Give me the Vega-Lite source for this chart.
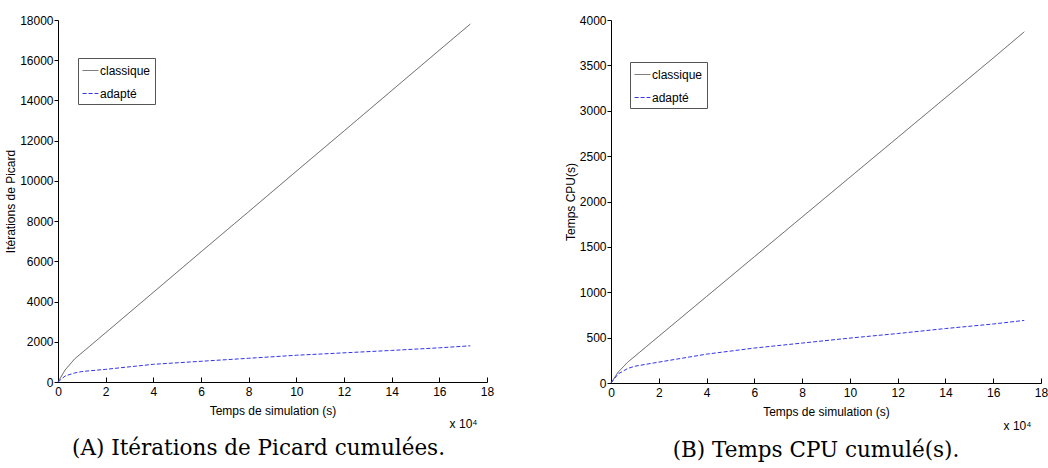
{
  "$schema": "https://vega.github.io/schema/vega-lite/v6.json",
  "background": "white",
  "padding": {"left": 4, "top": 14, "right": 0, "bottom": 0},
  "datasets": {
    "series": [
      {"t": 0, "serie": "classique", "iter": 0, "cpu": 0},
      {"t": 3000, "serie": "classique", "iter": 600, "cpu": 120},
      {"t": 7000, "serie": "classique", "iter": 1150, "cpu": 230},
      {"t": 10000, "serie": "classique", "iter": 1450, "cpu": 295},
      {"t": 20000, "serie": "classique", "iter": 2450, "cpu": 515},
      {"t": 40000, "serie": "classique", "iter": 4460, "cpu": 953},
      {"t": 60000, "serie": "classique", "iter": 6470, "cpu": 1391},
      {"t": 80000, "serie": "classique", "iter": 8470, "cpu": 1829},
      {"t": 100000, "serie": "classique", "iter": 10480, "cpu": 2267},
      {"t": 120000, "serie": "classique", "iter": 12480, "cpu": 2705},
      {"t": 140000, "serie": "classique", "iter": 14490, "cpu": 3143},
      {"t": 160000, "serie": "classique", "iter": 16500, "cpu": 3581},
      {"t": 173000, "serie": "classique", "iter": 17800, "cpu": 3870},
      {"t": 0, "serie": "adapté", "iter": 0, "cpu": 0},
      {"t": 3000, "serie": "adapté", "iter": 300, "cpu": 100},
      {"t": 7000, "serie": "adapté", "iter": 450, "cpu": 160},
      {"t": 10000, "serie": "adapté", "iter": 520, "cpu": 185},
      {"t": 20000, "serie": "adapté", "iter": 630, "cpu": 230},
      {"t": 40000, "serie": "adapté", "iter": 880, "cpu": 318},
      {"t": 60000, "serie": "adapté", "iter": 1030, "cpu": 385},
      {"t": 80000, "serie": "adapté", "iter": 1180, "cpu": 440},
      {"t": 100000, "serie": "adapté", "iter": 1330, "cpu": 495},
      {"t": 120000, "serie": "adapté", "iter": 1450, "cpu": 545},
      {"t": 140000, "serie": "adapté", "iter": 1570, "cpu": 600},
      {"t": 160000, "serie": "adapté", "iter": 1700, "cpu": 650},
      {"t": 173000, "serie": "adapté", "iter": 1800, "cpu": 690}
    ],
    "notes": [{"t": 176000, "txt": "x 10⁴", "iter": -2100, "cpu": -470}]
  },
  "hconcat": [
    {
      "width": 429,
      "height": 362,
      "title": {"text": "(A) Itérations de Picard cumulées.", "orient": "bottom", "font": "DejaVu Serif", "fontSize": 21.5, "fontWeight": "normal", "offset": 8, "anchor": "middle", "dx": -14},
      "layer": [
        {
          "data": {"name": "series"},
          "mark": {"type": "line", "strokeWidth": 1, "clip": false},
          "encoding": {
            "x": {"field": "t", "type": "quantitative", "scale": {"domain": [0, 180000], "nice": false, "zero": true},
                  "axis": {"values": [0, 20000, 40000, 60000, 80000, 100000, 120000, 140000, 160000, 180000], "labelExpr": "format(datum.value/10000, 'd')", "title": "Temps de simulation (s)", "tickSize": -5, "labelPadding": 9, "grid": false, "titlePadding": 8}},
            "y": {"field": "iter", "type": "quantitative", "scale": {"domain": [0, 18000], "nice": false},
                  "axis": {"values": [0, 2000, 4000, 6000, 8000, 10000, 12000, 14000, 16000, 18000], "format": "d", "title": "Itérations de Picard", "tickSize": 4, "labelPadding": 1, "grid": false, "titlePadding": 2}},
            "color": {"field": "serie", "type": "nominal", "scale": {"domain": ["classique", "adapté"], "range": ["#555555", "#3333ee"]},
                      "legend": {"orient": "none", "legendX": 20, "legendY": 38, "title": null}},
            "strokeDash": {"field": "serie", "type": "nominal", "scale": {"domain": ["classique", "adapté"], "range": [[1, 0], [4, 2]]}, "legend": null},
            "order": {"field": "t", "type": "quantitative"}
          }
        },
        {
          "data": {"name": "notes"},
          "mark": {"type": "text", "align": "right", "baseline": "middle", "fontSize": 12, "clip": false},
          "encoding": {
            "x": {"field": "t", "type": "quantitative"},
            "y": {"field": "iter", "type": "quantitative"},
            "text": {"field": "txt"}
          }
        }
      ]
    },
    {
      "width": 430,
      "height": 363,
      "title": {"text": "(B) Temps CPU cumulé(s).", "orient": "bottom", "font": "DejaVu Serif", "fontSize": 21.5, "fontWeight": "normal", "offset": 8, "anchor": "middle", "dx": -10},
      "layer": [
        {
          "data": {"name": "series"},
          "mark": {"type": "line", "strokeWidth": 1, "clip": false},
          "encoding": {
            "x": {"field": "t", "type": "quantitative", "scale": {"domain": [0, 180000], "nice": false, "zero": true},
                  "axis": {"values": [0, 20000, 40000, 60000, 80000, 100000, 120000, 140000, 160000, 180000], "labelExpr": "format(datum.value/10000, 'd')", "title": "Temps de simulation (s)", "tickSize": -5, "labelPadding": 9, "grid": false, "titlePadding": 8}},
            "y": {"field": "cpu", "type": "quantitative", "scale": {"domain": [0, 4000], "nice": false},
                  "axis": {"values": [0, 500, 1000, 1500, 2000, 2500, 3000, 3500, 4000], "format": "d", "title": "Temps CPU(s)", "tickSize": 4, "labelPadding": 1, "grid": false, "titlePadding": 2}},
            "color": {"field": "serie", "type": "nominal", "scale": {"domain": ["classique", "adapté"], "range": ["#555555", "#3333ee"]},
                      "legend": {"orient": "none", "legendX": 19, "legendY": 42, "title": null}},
            "strokeDash": {"field": "serie", "type": "nominal", "scale": {"domain": ["classique", "adapté"], "range": [[1, 0], [4, 2]]}, "legend": null},
            "order": {"field": "t", "type": "quantitative"}
          }
        },
        {
          "data": {"name": "notes"},
          "mark": {"type": "text", "align": "right", "baseline": "middle", "fontSize": 12, "clip": false},
          "encoding": {
            "x": {"field": "t", "type": "quantitative"},
            "y": {"field": "cpu", "type": "quantitative"},
            "text": {"field": "txt"}
          }
        }
      ]
    }
  ],
  "resolve": {"scale": {"x": "independent", "y": "independent", "color": "independent", "strokeDash": "independent"}, "legend": {"color": "independent"}},
  "spacing": 70,
  "config": {
    "view": {"stroke": null},
    "font": "Liberation Sans",
    "axis": {"domainColor": "#000", "tickColor": "#000", "labelColor": "#000", "titleColor": "#000", "labelFont": "Liberation Sans", "titleFont": "Liberation Sans", "labelFontSize": 12, "titleFontSize": 12, "titleFontWeight": "normal", "domainWidth": 1, "labelFlush": false, "labelOverlap": false},
    "text": {"font": "Liberation Sans"},
    "legend": {"labelFont": "Liberation Sans", "labelFontSize": 12, "labelColor": "#000", "strokeColor": "#555", "fillColor": "white", "padding": 4, "symbolType": "stroke", "symbolStrokeWidth": 1, "symbolSize": 250, "labelOffset": 1, "rowPadding": 8}
  }
}
